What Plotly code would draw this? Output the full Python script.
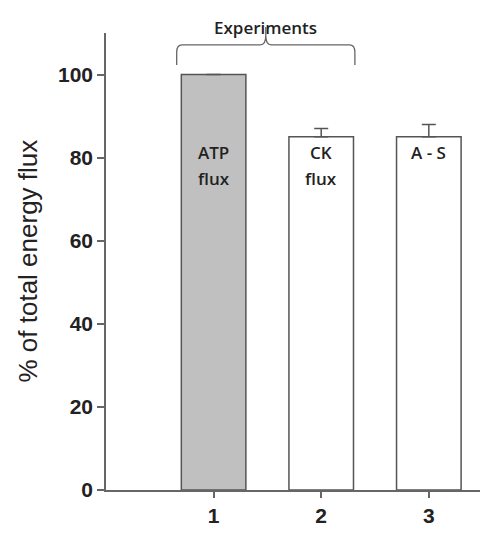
import plotly.graph_objects as go

experiments = [1, 2, 3]
flux_pct = [100, 85, 85]
err_up = [None, 2, 3]
bar_labels = ["ATP<br>flux", "CK<br>flux", "A - S"]
bar_colors = ["#c0c0c0", "#ffffff", "#ffffff"]
y_ticks = [0, 20, 40, 60, 80, 100]
bracket_title = "Experiments"
y_title = "% of total energy flux"

# page body has an 8px default margin; compensate so the plot area lands
# at the same screen pixels as the reference
W, H = 480, 526
ML, MR, MT, MB = 98, 0, 25, 44
PW = W - ML - MR

fig = go.Figure()
fig.add_trace(go.Bar(
    x=experiments, y=flux_pct, width=0.6,
    marker=dict(color=bar_colors, line=dict(color="#555555", width=1.5)),
    error_y=dict(type="data", symmetric=False, array=err_up,
                 arrayminus=[0] * len(err_up), color="#555555",
                 thickness=1.5, width=7),
    showlegend=False,
))

lab_font = dict(family="Open Sans", size=17, color="#222222", weight=600)
for xv, lab in zip(experiments, bar_labels):
    for i, line in enumerate(lab.split("<br>")):
        fig.add_annotation(x=xv, y=81.2, yshift=-26 * i, text=line, showarrow=False,
                           font=lab_font)

# bracket
c, h = 1.485, 0.828
l, r = c - h, c + h
yb, ym, yt = 0.930, 0.974, 1.013
path = (f"M {l},{yb} L {l},{ym-0.016} Q {l},{ym} {l+0.05},{ym} L {c-0.05},{ym} "
        f"Q {c},{ym} {c},{ym+0.021} L {c},{yt} "
        f"M {c},{ym+0.021} Q {c},{ym} {c+0.05},{ym} L {r-0.05},{ym} "
        f"Q {r},{ym} {r},{ym-0.016} L {r},{yb}")
fig.add_shape(type="path", xref="x", yref="paper", path=path,
              line=dict(color="#666666", width=1.3))
fig.add_annotation(x=c, xref="x", y=1.042, yref="paper", text=bracket_title,
                   showarrow=False,
                   font=dict(family="Open Sans", size=17, color="#222222", weight=600))

fig.add_annotation(x=(27 - 106) / PW, xref="paper", xanchor="center",
                   y=0.5, yref="paper", text=y_title, textangle=-90, showarrow=False,
                   font=dict(family="Liberation Sans", size=26, color="#222222"))

tick_font = dict(family="Liberation Sans", size=21, color="#222222", weight="bold")
fig.update_layout(
    width=W, height=H,
    margin=dict(l=ML, r=MR, t=MT, b=MB, autoexpand=False),
    plot_bgcolor="white", paper_bgcolor="white",
    xaxis=dict(range=[0, 3.55], tickvals=experiments, ticks="outside", ticklen=6,
               tickwidth=1.5, tickcolor="#666666", showline=True, linecolor="#666666",
               linewidth=1.5, showgrid=False, zeroline=False, tickfont=tick_font),
    yaxis=dict(range=[0, 110], tickvals=y_ticks, ticks="outside", ticklen=7,
               tickwidth=1.5, tickcolor="#666666", showline=True, linecolor="#666666",
               linewidth=1.5, showgrid=False, zeroline=False, tickfont=tick_font),
)

fig.write_html("out.html")
